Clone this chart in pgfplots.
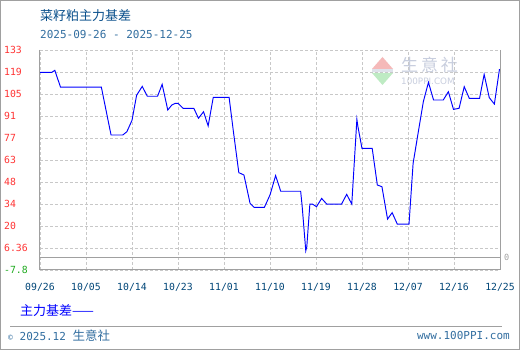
\documentclass[border=0pt]{standalone}
\usepackage{fontspec}
\usepackage{pgfplots}
\pgfplotsset{compat=1.18}
\setmainfont{DejaVu Sans}
\newfontfamily\cjk{Noto Sans CJK SC}
\newfontfamily\mono{DejaVu Sans Mono}
\definecolor{titleblue}{RGB}{10,80,140}
\definecolor{dateblue}{RGB}{50,110,160}
\definecolor{tickblue}{RGB}{0,70,120}
\definecolor{tred}{RGB}{255,51,51}
\definecolor{tgreen}{RGB}{30,170,30}
\definecolor{gridgray}{RGB}{200,200,200}
\definecolor{axisgray}{RGB}{160,160,160}
\definecolor{wmgray}{RGB}{200,206,222}
\definecolor{wmred}{RGB}{245,185,185}
\definecolor{wmgreen}{RGB}{190,235,195}
\begin{document}
\begin{tikzpicture}
\fill[white] (0pt,0pt) rectangle (520pt,350pt);
\draw[axisgray] (0.5pt,0.5pt) rectangle (519.5pt,349.5pt);
% watermark
\fill[wmred] (382.5pt,293pt) -- (372pt,281pt) -- (393pt,281pt) -- cycle;
\fill[wmgreen] (372pt,277pt) -- (393pt,277pt) -- (382.5pt,265pt) -- cycle;
\fill[wmgray!60] (372pt,277.5pt) rectangle (393pt,280.5pt);
\node[anchor=west, inner sep=0pt, text=wmgray, font=\cjk\fontsize{17}{17}\selectfont] at (401pt,285.5pt) {生\,意\,社};
\node[anchor=west, inner sep=0pt, text=wmgray, font=\fontsize{8.8}{9}\selectfont] at (401pt,269pt) {100PPI.COM};
% titles
\node[anchor=west, inner sep=0pt, text=titleblue, font=\cjk\fontsize{13}{13}\selectfont] at (40pt,334.5pt) {菜籽粕主力基差};
\node[anchor=west, inner sep=0pt, text=dateblue, font=\mono\fontsize{11}{11}\selectfont] at (40pt,315pt) {2025-09-26 - 2025-12-25};
\begin{axis}[
  at={(40pt,80pt)}, anchor=south west, scale only axis,
  width=460pt, height=220pt,
  xmin=0, xmax=90, ymin=-7.8, ymax=133,
  axis line style={draw=none},
  tick style={draw=none},
  xtick={0,9,18,27,36,45,54,63,72,81,90},
  xticklabels={09/26,10/05,10/14,10/23,11/01,11/10,11/19,11/28,12/07,12/16,12/25},
  ytick={-7.8,6.28,20.36,34.44,48.52,62.6,76.68,90.76,104.84,118.92,133},
  yticklabels={{\color{tgreen}-7.8},6.36,20,34,48,63,77,91,105,119,133},
  xticklabel style={font=\mono\fontsize{9.8}{10}\selectfont, text=tickblue, anchor=north, inner sep=0pt, yshift=-13.5pt},
  yticklabel style={font=\mono\fontsize{9.8}{10}\selectfont, text=tred, anchor=west, inner sep=0pt, xshift=-36pt},
  grid=major,
  grid style={color=gridgray, dash pattern=on 3pt off 2pt, line width=0.8pt},
  clip=false,
]
\draw[axisgray, line width=0.9pt] (axis cs:0,0) -- (axis cs:90,0);
\addplot[color=blue, line width=0.95pt, mark=none] coordinates {
(0,118.7)(2.3,118.7)(2.9,120)(4,109.3)(12,109.3)(13.9,78.6)(16.2,78.6)(17,80.7)(18,88)(18.9,104)(20,109.7)(21,103.4)(23,103.4)(23.9,111)(25,94.6)(25.8,97.8)(26.5,98.9)(27,98.9)(28,95.7)(30.1,95.7)(31,89.3)(32,93.5)(32.9,84.4)(33.9,102.7)(37,102.7)(37.8,81.8)(38.9,54.5)(39.9,53)(41.1,34.9)(41.9,32.3)(43.9,32.3)(45,40.2)(46.1,52.6)(47.1,42.6)(51,42.6)(51.3,32.7)(52,4.5)(52.2,7.1)(52.8,34.4)(53.3,34.4)(54.1,32.7)(55.1,38)(56.1,34.4)(59,34.4)(60,40.6)(61,34.4)(62,88.6)(62.2,84)(63,70)(65,70)(66,46.6)(66.9,45.5)(68,24.8)(68.9,28.9)(69.9,21.6)(72.2,21.6)(73,60.5)(75,99.9)(76,112.3)(77,101)(78.9,101)(79.9,106.3)(80.9,95)(82,95.7)(83,109.5)(84,102)(86,102)(86.9,117.4)(87.9,102.5)(88.9,98.4)(89.9,120.8)
};
\draw[axisgray, line width=1pt] (rel axis cs:0,1) -- (rel axis cs:0,0) -- (rel axis cs:1,0) -- (rel axis cs:1,1);
\node[anchor=west, inner sep=0pt, text=axisgray, font=\mono\fontsize{8.5}{9}\selectfont] at (axis cs:90,0) [xshift=4pt] {0};
\end{axis}
% legend
\node[anchor=west, inner sep=0pt, text=blue, font=\cjk\fontsize{13}{13}\selectfont] at (20pt,39pt) {主力基差——};
% footer
\draw[axisgray, line width=0.8pt] (10pt,24pt) -- (502pt,24pt);
\node[anchor=west, inner sep=0pt, text=dateblue, font=\mono\fontsize{11}{11}\selectfont] at (8pt,14.5pt) {\fontsize{8}{8}\selectfont ©\fontsize{11}{11}\selectfont{} 2025.12 {\cjk\fontsize{12.5}{12.5}\selectfont 生意社}};
\node[anchor=east, inner sep=0pt, text=dateblue, font=\mono\fontsize{11}{11}\selectfont] at (510pt,14.5pt) {www.100PPI.com};
\useasboundingbox (0pt,0pt) rectangle (520pt,350pt);
\end{tikzpicture}
\end{document}
